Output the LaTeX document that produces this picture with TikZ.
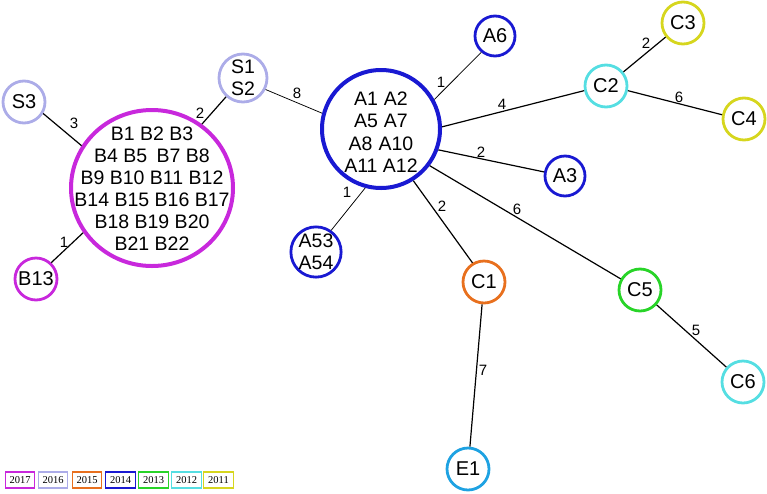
\documentclass[tikz,border=0pt]{standalone}
\usepackage{fontspec}
\setmainfont{Liberation Sans}
\newfontfamily\legfont{Liberation Serif}
\usetikzlibrary{shapes.geometric}
\definecolor{cA}{RGB}{200,40,220}
\definecolor{cB}{RGB}{172,172,232}
\definecolor{cC}{RGB}{232,112,30}
\definecolor{cD}{RGB}{25,25,210}
\definecolor{cE}{RGB}{40,212,40}
\definecolor{cF}{RGB}{85,222,226}
\definecolor{cG}{RGB}{214,214,30}
\definecolor{cH}{RGB}{30,162,226}
\begin{document}
\begin{tikzpicture}[x=1pt,y=-1pt,
  nd/.style={circle,draw=#1,inner sep=0pt,line width=2.8pt,minimum size=42pt,text=black,font=\fontsize{20}{22}\selectfont},
  ndm/.style={nd=#1,minimum size=48pt,align=center,font=\fontsize{19.5}{22.5}\selectfont},
  multi/.style={inner sep=0pt,align=center,font=\fontsize{19.5}{22.5}\selectfont},
  ed/.style={line width=1.2pt},
  thn/.style={line width=0.75pt},
  lbl/.style={font=\fontsize{15}{15}\selectfont,inner sep=0pt},
  leg/.style={draw=#1,line width=1.2pt,minimum width=29.5pt,minimum height=16pt,inner sep=0pt,font=\legfont\fontsize{10.5}{10.5}\selectfont}]
\useasboundingbox (0,0) rectangle (767,493);
% nodes
\node[nd=cB] (s3) at (24,102) {S3};
\node[ndm=cB] (s12) at (243,78) {S1\\S2};
\node[draw=cA,ellipse,line width=4pt,minimum width=162pt,minimum height=156pt,inner sep=0pt] (b) at (152,188) {};
\node[multi,font=\fontsize{19.5}{22}\selectfont] (bt) at (152,189)
  {B1 B2 B3\\B4 B5\hspace{4pt} B7 B8\\B9 B10 B11 B12\\B14 B15 B16 B17\\B18 B19 B20\\B21 B22};
\node[nd=cA] (b13) at (36,279) {B13};
\node[circle,draw=cD,line width=4pt,minimum size=118pt,inner sep=0pt] (a) at (381,129) {};
\node[multi] (at) at (381,132) {A1\hspace{6pt}A2\\A5\hspace{6pt}A7\\A8\hspace{6pt}A10\\A11 A12};
\node[nd=cD,minimum size=40pt] (a6) at (495,36) {A6};
\node[nd=cD,minimum size=40pt] (a3) at (565,176) {A3};
\node[ndm=cD] (a53) at (316,252) {A53\\A54};
\node[nd=cF] (c2) at (606,86) {C2};
\node[nd=cG] (c3) at (683,23) {C3};
\node[nd=cG] (c4) at (744,119) {C4};
\node[nd=cC] (c1) at (484,282) {C1};
\node[nd=cE] (c5) at (640,290) {C5};
\node[nd=cF] (c6) at (743,382) {C6};
\node[nd=cH] (e1) at (468,469) {E1};
% edges
\draw[ed] (s3.-31) -- (b.149);
\draw[ed] (b13.47) -- (b.213);
\draw[ed] (b.52) -- (s12.228);
\draw[thn] (s12.-27) -- (a.165);
\draw[thn] (a.29) -- (a6.230);
\draw[ed] (a.2) -- (c2.192);
\draw[ed] (c2.39) -- (c3.219);
\draw[ed] (c2.-12) -- (c4.169);
\draw[ed] (a.-20) -- (a3.169);
\draw[thn] (a.-105) -- (a53.55);
\draw[ed] (a.-58) -- (c1.121);
\draw[ed] (a.-37) -- (c5.150);
\draw[ed] (c5) -- (c6);
\draw[ed] (c1) -- (e1);
% edge labels
\node[lbl] (l1) at (74,123) {3};
\node[lbl] (l2) at (64,242) {1};
\node[lbl] (l3) at (200,113) {2};
\node[lbl] (l4) at (297,93) {8};
\node[lbl] (l5) at (441,82) {1};
\node[lbl] (l6) at (502,104) {4};
\node[lbl] (l7) at (646,43) {2};
\node[lbl] (l8) at (679,97) {6};
\node[lbl] (l9) at (481,152) {2};
\node[lbl] (l10) at (347,192) {1};
\node[lbl] (l11) at (442,206) {2};
\node[lbl] (l12) at (517,209) {6};
\node[lbl] (l13) at (696,330) {5};
\node[lbl] (l14) at (483,370) {7};
% legend
\node[leg=cA] (g1) at (20,480) {2017};
\node[leg=cB] (g2) at (53,480) {2016};
\node[leg=cC] (g3) at (87,480) {2015};
\node[leg=cD] (g4) at (120.5,480) {2014};
\node[leg=cE] (g5) at (153.5,480) {2013};
\node[leg=cF] (g6) at (186.5,480) {2012};
\node[leg=cG] (g7) at (218.5,480) {2011};
\end{tikzpicture}
\end{document}
